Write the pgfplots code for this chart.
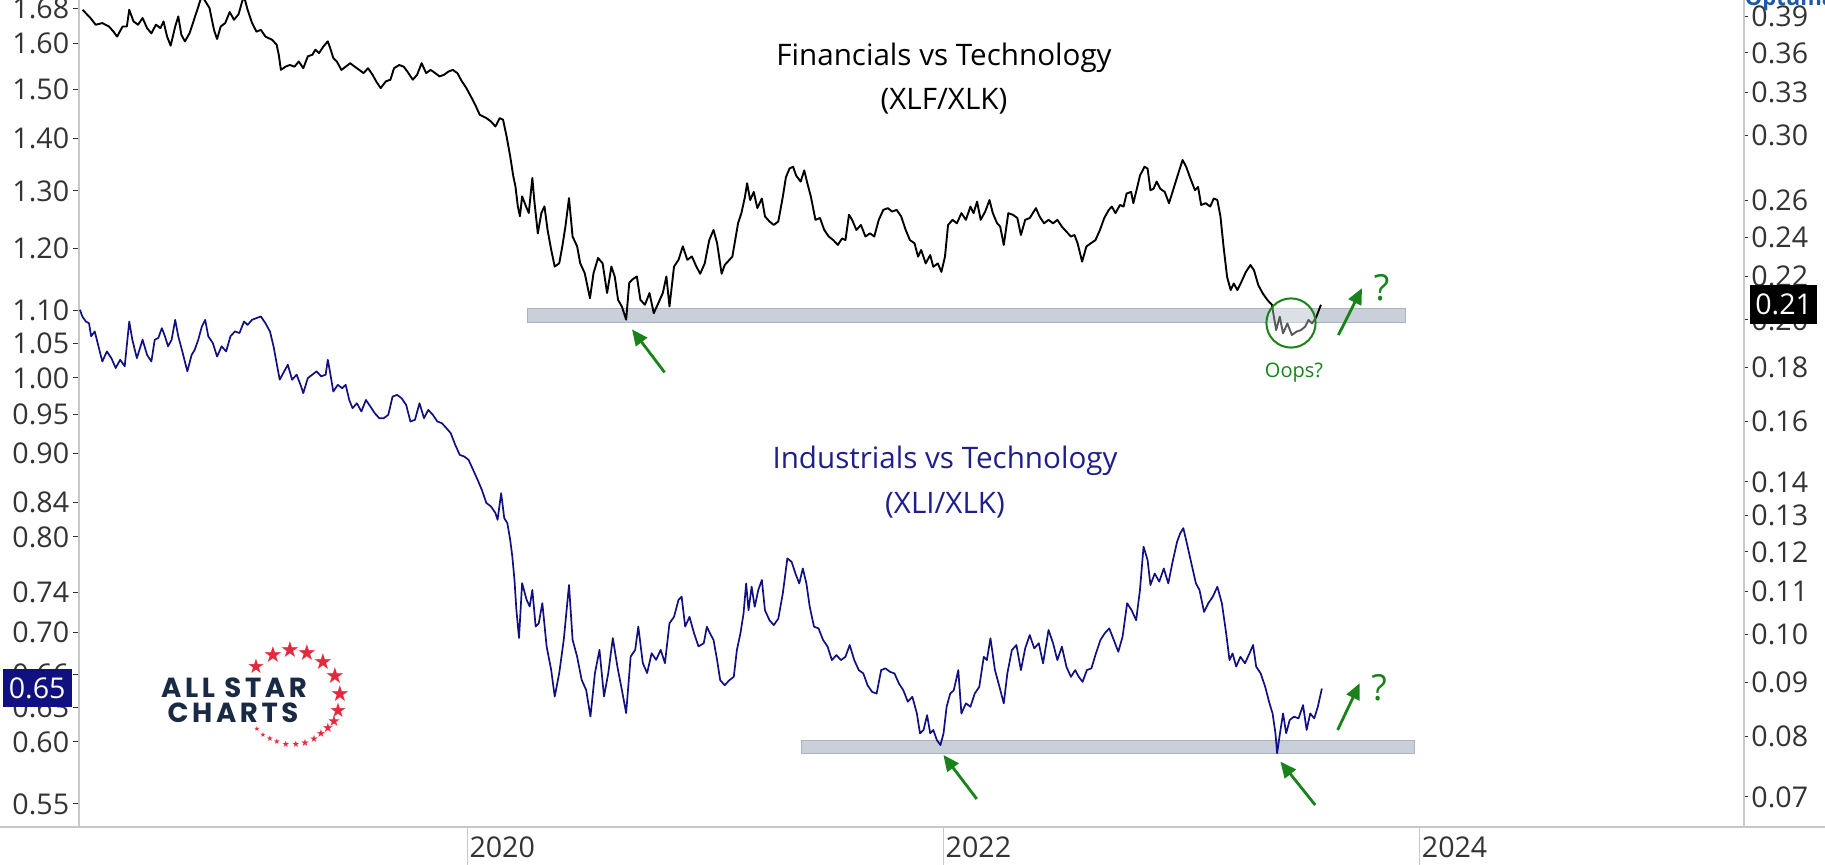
\documentclass[border=0pt]{standalone}
\usepackage{fontspec}
\setmainfont{Open Sans}
\newfontfamily\logofont{Poppins}[LetterSpace=13]
\newfontfamily\symfont{DejaVu Sans}
\usepackage{pgfplots}
\pgfplotsset{compat=1.18}
\usetikzlibrary{arrows.meta}

\definecolor{axisgray}{RGB}{200,200,200}
\definecolor{labelgray}{RGB}{51,51,51}
\definecolor{linenavy}{RGB}{16,16,128}
\definecolor{titlenavy}{RGB}{31,31,140}
\definecolor{annogreen}{RGB}{25,130,25}
\definecolor{bandfill}{RGB}{201,208,217}
\definecolor{banddraw}{RGB}{170,178,190}
\definecolor{logonavy}{RGB}{27,42,68}
\definecolor{starred}{RGB}{230,40,60}
\definecolor{optblue}{RGB}{30,90,170}

\newcommand\tk{\fontsize{14.3}{16}\selectfont}
\newcommand\ttl{\fontsize{14.8}{17}\selectfont}

\pgfplotsset{
  chartframe/.style={
    at={(39.5pt,19pt)}, anchor=south west,
    scale only axis, width=832.5pt, height=413.5pt,
    xmin=2018.370, xmax=2025.363,
    axis x line=none,
    y axis line style={-, draw=axisgray, line width=0.6pt},
    tick align=outside,
    ytick style={draw=labelgray, line width=0.5pt},
    yticklabel style={font=\tk, text=labelgray, inner sep=1.5pt},
    yminorticks=false,
  },
}

\begin{document}
\begin{tikzpicture}

% ---- left axis: XLI/XLK ----
\begin{axis}[chartframe,
  ymode=log, ymin=0.5325, ymax=1.6997,
  axis y line*=left,
  major tick length=3.25pt,
  ytick={0.55,0.60,0.63,0.66,0.70,0.74,0.80,0.84,0.90,0.95,1.00,1.05,1.10,1.20,1.30,1.40,1.50,1.60,1.68},
  yticklabels={0.55,0.60,0.63,0.66,0.70,0.74,0.80,0.84,0.90,0.95,1.00,1.05,1.10,1.20,1.30,1.40,1.50,1.60,1.68},
]
\fill[bandfill, draw=banddraw, line width=0.5pt]
  (axis cs:2021.403,0.5905) rectangle (axis cs:2023.979,0.601);
\addplot[linenavy, line width=0.85pt, line join=round] coordinates {
(2018.374,1.1005) (2018.384,1.0901) (2018.399,1.0824) (2018.412,1.0798) (2018.421,1.0601)
(2018.436,1.0675) (2018.450,1.0478) (2018.468,1.0233) (2018.487,1.0379) (2018.506,1.0281)
(2018.524,1.0140) (2018.543,1.0258) (2018.562,1.0164) (2018.581,1.0824) (2018.594,1.0551)
(2018.613,1.0281) (2018.637,1.0551) (2018.656,1.0328) (2018.674,1.0233) (2018.688,1.0551)
(2018.703,1.0576) (2018.718,1.0724) (2018.731,1.0601) (2018.744,1.0454) (2018.759,1.0551)
(2018.774,1.0850) (2018.787,1.0601) (2018.806,1.0352) (2018.825,1.0093) (2018.843,1.0328)
(2018.856,1.0403) (2018.871,1.0551) (2018.886,1.0749) (2018.900,1.0850) (2018.913,1.0601)
(2018.932,1.0502) (2018.950,1.0305) (2018.969,1.0454) (2018.988,1.0379) (2019.006,1.0601)
(2019.025,1.0675) (2019.044,1.0650) (2019.063,1.0824) (2019.078,1.0773) (2019.097,1.0850)
(2019.115,1.0876) (2019.134,1.0901) (2019.153,1.0798) (2019.172,1.0675) (2019.187,1.0454)
(2019.200,1.0210) (2019.213,0.9975) (2019.228,1.0069) (2019.247,1.0187) (2019.265,0.9975)
(2019.284,1.0046) (2019.303,0.9881) (2019.312,0.9789) (2019.331,0.9998) (2019.350,1.0046)
(2019.368,1.0093) (2019.387,1.0022) (2019.406,1.0046) (2019.415,1.0258) (2019.425,1.0069)
(2019.438,0.9811) (2019.457,0.9904) (2019.475,0.9857) (2019.490,0.9904) (2019.505,0.9696)
(2019.519,0.9584) (2019.537,0.9651) (2019.556,0.9540) (2019.575,0.9696) (2019.594,0.9606)
(2019.612,0.9518) (2019.631,0.9451) (2019.650,0.9451) (2019.669,0.9496) (2019.687,0.9742)
(2019.706,0.9765) (2019.725,0.9719) (2019.744,0.9629) (2019.762,0.9407) (2019.781,0.9429)
(2019.800,0.9651) (2019.819,0.9451) (2019.837,0.9562) (2019.856,0.9496) (2019.875,0.9407)
(2019.894,0.9385) (2019.913,0.9320) (2019.931,0.9256) (2019.950,0.9105) (2019.969,0.8977)
(2019.988,0.8956) (2020.006,0.8915) (2020.025,0.8792) (2020.044,0.8669) (2020.062,0.8546)
(2020.081,0.8390) (2020.100,0.8351) (2020.119,0.8273) (2020.128,0.8195) (2020.143,0.8507)
(2020.156,0.8214) (2020.169,0.8156) (2020.181,0.7969) (2020.190,0.7782) (2020.199,0.7533)
(2020.207,0.7223) (2020.218,0.6942) (2020.231,0.7498) (2020.250,0.7325) (2020.263,0.7257)
(2020.274,0.7427) (2020.288,0.7055) (2020.301,0.7088) (2020.316,0.7291) (2020.334,0.6861)
(2020.353,0.6640) (2020.368,0.6395) (2020.387,0.6609) (2020.406,0.6926) (2020.428,0.7480)
(2020.443,0.6926) (2020.462,0.6764) (2020.481,0.6547) (2020.500,0.6455) (2020.518,0.6218)
(2020.537,0.6609) (2020.556,0.6828) (2020.575,0.6395) (2020.593,0.6609) (2020.612,0.6942)
(2020.631,0.6672) (2020.650,0.6455) (2020.668,0.6248) (2020.687,0.6764) (2020.706,0.6828)
(2020.719,0.7055) (2020.738,0.6702) (2020.756,0.6609) (2020.775,0.6796) (2020.794,0.6733)
(2020.813,0.6828) (2020.831,0.6702) (2020.850,0.7088) (2020.869,0.7152) (2020.888,0.7325)
(2020.901,0.7357) (2020.916,0.7055) (2020.934,0.7152) (2020.953,0.6990) (2020.972,0.6861)
(2020.994,0.6892) (2021.007,0.7054) (2021.020,0.6988) (2021.035,0.6924) (2021.050,0.6731)
(2021.063,0.6543) (2021.082,0.6497) (2021.101,0.6543) (2021.120,0.6574) (2021.133,0.6826)
(2021.148,0.6988) (2021.161,0.7185) (2021.172,0.7496) (2021.182,0.7219) (2021.195,0.7461)
(2021.208,0.7254) (2021.223,0.7427) (2021.238,0.7532) (2021.251,0.7219) (2021.270,0.7118)
(2021.288,0.7069) (2021.307,0.7134) (2021.326,0.7392) (2021.345,0.7764) (2021.363,0.7727)
(2021.379,0.7601) (2021.395,0.7496) (2021.410,0.7655) (2021.425,0.7496) (2021.439,0.7254)
(2021.457,0.7054) (2021.476,0.7037) (2021.495,0.6924) (2021.514,0.6859) (2021.532,0.6731)
(2021.551,0.6778) (2021.570,0.6731) (2021.589,0.6762) (2021.607,0.6875) (2021.626,0.6731)
(2021.645,0.6637) (2021.664,0.6606) (2021.682,0.6497) (2021.701,0.6437) (2021.720,0.6422)
(2021.739,0.6637) (2021.757,0.6653) (2021.776,0.6621) (2021.795,0.6606) (2021.814,0.6512)
(2021.832,0.6452) (2021.851,0.6349) (2021.870,0.6393) (2021.889,0.6245) (2021.902,0.6073)
(2021.917,0.6102) (2021.932,0.6230) (2021.945,0.6073) (2021.958,0.6102) (2021.973,0.6016)
(2021.988,0.5974) (2022.001,0.6073) (2022.014,0.6304) (2022.029,0.6422) (2022.044,0.6452)
(2022.063,0.6637) (2022.076,0.6245) (2022.095,0.6334) (2022.114,0.6304) (2022.132,0.6422)
(2022.151,0.6482) (2022.170,0.6762) (2022.183,0.6731) (2022.198,0.6940) (2022.217,0.6637)
(2022.236,0.6482) (2022.254,0.6334) (2022.269,0.6606) (2022.288,0.6826) (2022.307,0.6875)
(2022.326,0.6637) (2022.344,0.6842) (2022.363,0.6972) (2022.382,0.6842) (2022.401,0.6892)
(2022.419,0.6700) (2022.442,0.7021) (2022.461,0.6892) (2022.479,0.6731) (2022.498,0.6859)
(2022.517,0.6669) (2022.536,0.6574) (2022.554,0.6637) (2022.569,0.6574) (2022.585,0.6528)
(2022.603,0.6637) (2022.622,0.6653) (2022.641,0.6794) (2022.660,0.6924) (2022.678,0.6988)
(2022.697,0.7037) (2022.716,0.6924) (2022.735,0.6810) (2022.753,0.6956) (2022.772,0.7289)
(2022.791,0.7219) (2022.810,0.7118) (2022.826,0.7427) (2022.841,0.7893) (2022.858,0.7745)
(2022.870,0.7479) (2022.888,0.7601) (2022.907,0.7514) (2022.926,0.7655) (2022.945,0.7496)
(2022.963,0.7727) (2022.982,0.7948) (2022.995,0.8041) (2023.008,0.8100) (2023.023,0.7930)
(2023.042,0.7709) (2023.061,0.7496) (2023.076,0.7427) (2023.095,0.7202) (2023.113,0.7289)
(2023.132,0.7357) (2023.151,0.7461) (2023.170,0.7289) (2023.188,0.6988) (2023.202,0.6731)
(2023.215,0.6794) (2023.230,0.6669) (2023.248,0.6762) (2023.267,0.6700) (2023.286,0.6794)
(2023.301,0.6875) (2023.314,0.6669) (2023.333,0.6606) (2023.352,0.6482) (2023.370,0.6334)
(2023.383,0.6245) (2023.395,0.6073) (2023.402,0.5906) (2023.414,0.6073) (2023.427,0.6245)
(2023.440,0.6073) (2023.455,0.6188) (2023.473,0.6217) (2023.492,0.6202) (2023.511,0.6319)
(2023.526,0.6102) (2023.541,0.6245) (2023.558,0.6202) (2023.573,0.6304) (2023.590,0.6467)
};
\end{axis}

% ---- right axis: XLF/XLK ----
\begin{axis}[chartframe,
  ymode=log, ymin=0.0655, ymax=0.4045,
  axis y line*=right,
  major tick length=2pt,
  ytick={0.07,0.08,0.09,0.10,0.11,0.12,0.13,0.14,0.16,0.18,0.20,0.22,0.24,0.26,0.30,0.33,0.36,0.39},
  yticklabels={0.07,0.08,0.09,0.10,0.11,0.12,0.13,0.14,0.16,0.18,0.20,0.22,0.24,0.26,0.30,0.33,0.36,0.39},
  yticklabel style={anchor=west},
]
\fill[bandfill, draw=banddraw, line width=0.5pt]
  (axis cs:2020.252,0.1991) rectangle (axis cs:2023.943,0.2049);
\addplot[black, line width=0.95pt, line join=round] coordinates {
(2018.385,0.3959) (2018.418,0.3888) (2018.440,0.3831) (2018.468,0.3845) (2018.496,0.3816)
(2018.515,0.3773) (2018.530,0.3732) (2018.553,0.3816) (2018.571,0.3816) (2018.581,0.3959)
(2018.599,0.3859) (2018.618,0.3831) (2018.637,0.3888) (2018.656,0.3802) (2018.674,0.3759)
(2018.693,0.3831) (2018.712,0.3802) (2018.725,0.3859) (2018.740,0.3732) (2018.755,0.3658)
(2018.774,0.3816) (2018.787,0.3902) (2018.800,0.3746) (2018.815,0.3693) (2018.834,0.3759)
(2018.853,0.3873) (2018.862,0.3930) (2018.881,0.4050) (2018.890,0.4070) (2018.918,0.3975)
(2018.937,0.3788) (2018.950,0.3712) (2018.965,0.3816) (2018.984,0.3845) (2019.003,0.3940)
(2019.021,0.3873) (2019.040,0.3920) (2019.059,0.4060) (2019.068,0.4040) (2019.078,0.3960)
(2019.097,0.3845)
(2019.115,0.3773) (2019.134,0.3788) (2019.153,0.3732) (2019.181,0.3706) (2019.200,0.3666)
(2019.209,0.3586) (2019.218,0.3468) (2019.237,0.3493) (2019.256,0.3506) (2019.275,0.3493)
(2019.293,0.3533) (2019.312,0.3481) (2019.331,0.3573) (2019.350,0.3586) (2019.363,0.3626)
(2019.378,0.3599) (2019.397,0.3653) (2019.415,0.3693) (2019.425,0.3639) (2019.438,0.3560)
(2019.453,0.3533) (2019.472,0.3468) (2019.490,0.3493) (2019.509,0.3520) (2019.528,0.3493)
(2019.547,0.3468) (2019.565,0.3444) (2019.584,0.3481) (2019.603,0.3431) (2019.618,0.3382)
(2019.637,0.3332) (2019.659,0.3382) (2019.678,0.3394) (2019.693,0.3481) (2019.715,0.3506)
(2019.734,0.3493) (2019.749,0.3456) (2019.772,0.3394) (2019.790,0.3431) (2019.809,0.3520)
(2019.828,0.3444) (2019.847,0.3468) (2019.866,0.3444) (2019.884,0.3419) (2019.903,0.3431)
(2019.922,0.3456) (2019.940,0.3468) (2019.959,0.3444) (2019.978,0.3382) (2019.997,0.3332)
(2020.016,0.3271) (2020.034,0.3212) (2020.053,0.3142) (2020.081,0.3119) (2020.100,0.3096)
(2020.119,0.3062) (2020.137,0.3119) (2020.151,0.3108) (2020.166,0.2995) (2020.181,0.2867)
(2020.194,0.2744) (2020.203,0.2684) (2020.213,0.2568) (2020.222,0.2513) (2020.231,0.2625)
(2020.250,0.2559) (2020.259,0.2531) (2020.274,0.2734) (2020.282,0.2605) (2020.297,0.2420)
(2020.312,0.2531) (2020.325,0.2568) (2020.338,0.2438) (2020.353,0.2335) (2020.368,0.2249)
(2020.387,0.2266) (2020.400,0.2352) (2020.413,0.2457) (2020.428,0.2615) (2020.443,0.2403)
(2020.462,0.2352) (2020.475,0.2266) (2020.494,0.2217) (2020.516,0.2098) (2020.531,0.2217)
(2020.550,0.2292) (2020.569,0.2266) (2020.588,0.2122) (2020.606,0.2249) (2020.620,0.2201)
(2020.634,0.2090) (2020.650,0.2060) (2020.668,0.2001) (2020.681,0.2170) (2020.694,0.2186)
(2020.713,0.2201) (2020.728,0.2090) (2020.747,0.2068) (2020.766,0.2122) (2020.784,0.2030)
(2020.803,0.2075) (2020.822,0.2122) (2020.837,0.2201) (2020.850,0.2060) (2020.869,0.2249)
(2020.888,0.2283) (2020.906,0.2352) (2020.925,0.2283) (2020.944,0.2300) (2020.963,0.2249)
(2020.979,0.2214) (2020.998,0.2265) (2021.017,0.2384) (2021.035,0.2438) (2021.050,0.2368)
(2021.069,0.2214) (2021.082,0.2257) (2021.101,0.2282) (2021.114,0.2299) (2021.138,0.2474)
(2021.152,0.2530) (2021.167,0.2623) (2021.176,0.2702) (2021.189,0.2604) (2021.204,0.2651)
(2021.219,0.2558) (2021.238,0.2613) (2021.251,0.2512) (2021.270,0.2484) (2021.288,0.2465)
(2021.307,0.2484) (2021.326,0.2623) (2021.339,0.2738) (2021.354,0.2791) (2021.369,0.2802)
(2021.382,0.2748) (2021.401,0.2712) (2021.416,0.2780) (2021.429,0.2702) (2021.444,0.2623)
(2021.463,0.2493) (2021.482,0.2503) (2021.500,0.2438) (2021.519,0.2403) (2021.538,0.2384)
(2021.557,0.2359) (2021.575,0.2393) (2021.589,0.2384) (2021.604,0.2521) (2021.617,0.2493)
(2021.635,0.2438) (2021.654,0.2465) (2021.673,0.2403) (2021.692,0.2420) (2021.710,0.2403)
(2021.729,0.2493) (2021.748,0.2548) (2021.767,0.2558) (2021.785,0.2539) (2021.804,0.2548)
(2021.823,0.2512) (2021.842,0.2438) (2021.860,0.2384) (2021.879,0.2368) (2021.894,0.2299)
(2021.907,0.2333) (2021.926,0.2265) (2021.945,0.2307) (2021.958,0.2248) (2021.977,0.2265)
(2021.992,0.2223) (2022.007,0.2299) (2022.020,0.2465) (2022.039,0.2493) (2022.057,0.2474)
(2022.076,0.2530) (2022.095,0.2493) (2022.114,0.2567) (2022.127,0.2530) (2022.142,0.2595)
(2022.157,0.2493) (2022.176,0.2539) (2022.194,0.2604) (2022.208,0.2530) (2022.226,0.2474)
(2022.239,0.2456) (2022.254,0.2359) (2022.273,0.2530) (2022.292,0.2521) (2022.311,0.2503)
(2022.326,0.2411) (2022.344,0.2493) (2022.363,0.2503) (2022.376,0.2530) (2022.389,0.2558)
(2022.404,0.2512) (2022.423,0.2474) (2022.442,0.2493) (2022.461,0.2474) (2022.479,0.2493)
(2022.498,0.2456) (2022.517,0.2429) (2022.536,0.2403) (2022.551,0.2411) (2022.564,0.2368)
(2022.583,0.2274) (2022.601,0.2351) (2022.620,0.2368) (2022.639,0.2384) (2022.658,0.2438)
(2022.676,0.2503) (2022.695,0.2548) (2022.708,0.2567) (2022.723,0.2530) (2022.742,0.2576)
(2022.757,0.2567) (2022.770,0.2642) (2022.789,0.2651) (2022.798,0.2586) (2022.813,0.2670)
(2022.826,0.2748) (2022.845,0.2802) (2022.858,0.2791) (2022.870,0.2661) (2022.883,0.2670)
(2022.896,0.2712) (2022.911,0.2670) (2022.930,0.2651) (2022.948,0.2586) (2022.967,0.2670)
(2022.986,0.2757) (2023.005,0.2844) (2023.020,0.2802) (2023.038,0.2730) (2023.057,0.2661)
(2023.070,0.2680) (2023.083,0.2576) (2023.102,0.2586) (2023.121,0.2567) (2023.136,0.2613)
(2023.151,0.2604) (2023.164,0.2512) (2023.177,0.2351) (2023.192,0.2198) (2023.207,0.2136)
(2023.220,0.2167) (2023.235,0.2136) (2023.252,0.2175) (2023.271,0.2223) (2023.290,0.2257)
(2023.305,0.2231) (2023.323,0.2159) (2023.342,0.2120) (2023.361,0.2090) (2023.380,0.2068)
(2023.398,0.1956) (2023.413,0.2014) (2023.427,0.1942) (2023.445,0.1985) (2023.464,0.1935)
(2023.483,0.1949) (2023.502,0.1956) (2023.520,0.1971) (2023.534,0.2000) (2023.549,0.1985)
(2023.567,0.2014) (2023.586,0.2068)
};
\end{axis}

% ---- shared date axis ----
\begin{axis}[
  at={(39.5pt,19pt)}, anchor=south west,
  scale only axis, width=832.5pt, height=413.5pt,
  xmin=2018.370, xmax=2025.363, ymin=0, ymax=1,
  axis y line=none, axis x line*=bottom,
  x axis line style={draw=none},
  xtick={2020,2022,2024}, xticklabels={2020,2022,2024},
  tick align=outside, major tick length=19pt,
  xtick style={draw=axisgray, line width=0.6pt},
  xticklabel style={font=\tk, text=labelgray, anchor=west, inner sep=1pt, yshift=9pt},
]
\end{axis}

\draw[axisgray, line width=0.6pt] (0pt,19pt) -- (912.5pt,19pt);

% ---- titles ----
\node[font=\ttl, text=black] at (472pt,403.5pt) {Financials vs Technology};
\node[font=\ttl, text=black] at (472pt,382pt) {(XLF/XLK)};
\node[font=\ttl, text=titlenavy] at (472.5pt,202pt) {Industrials vs Technology};
\node[font=\ttl, text=titlenavy] at (472.5pt,180pt) {(XLI/XLK)};

% ---- green annotations ----
\begin{scope}[annogreen, line width=1.4pt, -{Triangle[length=8pt,width=7pt]}]
  \draw (332.3pt,246.3pt) -- (316pt,267.8pt);
  \draw (488.4pt,33pt) -- (471.7pt,55pt);
  \draw (657.6pt,30pt) -- (640.2pt,51.7pt);
  \draw (668.8pt,67.5pt) -- (679.9pt,90.9pt);
  \draw (669.2pt,265pt) -- (681pt,288.4pt);
\end{scope}
\node[annogreen, font=\fontsize{18}{20}\selectfont] at (690.8pt,288.5pt) {?};
\node[annogreen, font=\fontsize{18}{20}\selectfont] at (689.5pt,88.5pt) {?};
\draw[annogreen, line width=1pt, fill=white, fill opacity=0.35] (645.5pt,271pt) circle (12.3pt);
\node[annogreen, font=\fontsize{10}{12}\selectfont] at (647pt,246.3pt) {Oops?};

% ---- last value boxes ----
\node[fill=linenavy, text=white, font=\tk, minimum width=34.5pt, minimum height=19pt, inner sep=0pt]
  at (18.6pt,88.5pt) {0.65};
\node[fill=black, text=white, font=\tk, minimum width=33.5pt, minimum height=19.5pt, inner sep=0pt]
  at (891.8pt,280.3pt) {0.21};

% ---- logo ----
\node[text=logonavy, font=\logofont\bfseries\fontsize{13.8}{15}\selectfont] at (117pt,88.8pt) {ALL STAR};
\node[text=logonavy, font=\logofont\bfseries\fontsize{13.8}{15}\selectfont] at (116.5pt,76.3pt) {CHARTS};
\foreach \sx/\sy/\ss in {128/99.5/10, 136.5/105/11, 145/107.5/11, 153.5/106/11, 161.5/101.5/11,
    167.5/94.5/11, 170/85.5/11, 169/77.5/10, 167/72/7.5, 164/68.5/6.5, 160.5/65.5/5.5, 157/63/5,
    152.5/61/5, 148/60.5/4.5, 143/60.5/4.5, 138.5/61.5/4, 135/63/4, 131.5/65/3.5, 128.5/68/3.5}
  \node[text=starred, inner sep=0pt, font=\symfont\fontsize{\ss}{\ss}\selectfont] at (\sx pt,\sy pt) {★};

\node[text=optblue, font=\fontsize{11}{12}\selectfont\bfseries, anchor=base] at (895pt,429.5pt) {Optuma};

\pgfresetboundingbox
\useasboundingbox (0pt,0pt) rectangle (912.5pt,432.5pt);
\end{tikzpicture}
\end{document}
